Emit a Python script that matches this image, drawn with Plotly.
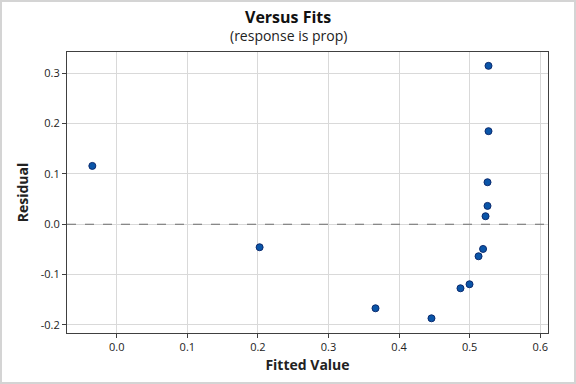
import plotly.graph_objects as go

fitted = [-0.0346, 0.2024, 0.3666, 0.4459, 0.4870, 0.4998, 0.5267, 0.5267, 0.5253, 0.5253, 0.5225, 0.5190, 0.5126]
residual = [0.1158, -0.0457, -0.1669, -0.1868, -0.1272, -0.1192, 0.3145, 0.1848, 0.0834, 0.0364, 0.0159, -0.0491, -0.0636]

x_ticks = [0.0, 0.1, 0.2, 0.3, 0.4, 0.5, 0.6]
x_labels = ["0.0", "0.1", "0.2", "0.3", "0.4", "0.5", "0.6"]
y_ticks = [-0.2, -0.1, 0.0, 0.1, 0.2, 0.3]
y_labels = ["-0.2", "-0.1", "0.0", "0.1", "0.2", "0.3"]

FONT = "Open Sans, Noto Sans, DejaVu Sans, sans-serif"

fig = go.Figure()
fig.add_trace(go.Scatter(
    x=fitted, y=residual, mode="markers",
    marker=dict(size=7, color="#0a55a8", line=dict(color="#0b2a6e", width=1)),
    showlegend=False, hoverinfo="x+y",
))

L, R, T, B = 67, 28, 52, 51
W = 576 - L - R
H = 384 - T - B

axis_common = dict(
    showline=True, linecolor="#404040", linewidth=1, mirror=True,
    showgrid=True, gridcolor="#d9d9d9", gridwidth=1,
    ticks="outside", ticklen=4, tickcolor="#404040",
    zeroline=False,
    tickfont=dict(family=FONT, size=11, color="#222222"),
)

fig.update_layout(
    width=576, height=384,
    margin=dict(l=L, r=R, t=T, b=B, autoexpand=False),
    paper_bgcolor="white", plot_bgcolor="white",
    font=dict(family=FONT),
    xaxis=dict(range=[-0.0705, 0.611], tickvals=x_ticks, ticktext=x_labels,
               title=dict(text="<b>Fitted Value</b>", font=dict(family=FONT, size=14, color="#222222"), standoff=6),
               **axis_common),
    yaxis=dict(range=[-0.216, 0.342], tickvals=y_ticks, ticktext=y_labels,
               title=dict(text="<b>Residual</b>", font=dict(family=FONT, size=14, color="#222222"), standoff=8),
               **axis_common),
    shapes=[
        dict(type="line", xref="paper", yref="y", x0=0, x1=1, y0=0, y1=0,
             line=dict(color="#6e6e6e", width=1.2, dash="dash"), layer="above"),
        dict(type="rect", xref="paper", yref="paper",
             x0=(1 - L) / W, x1=(575 - L) / W,
             y0=(384 - B - 383) / H, y1=(384 - B - 1) / H,
             line=dict(color="#d4d4d4", width=2), fillcolor="rgba(0,0,0,0)"),
    ],
    annotations=[
        dict(text="<b>Versus Fits</b>", xref="paper", yref="paper",
             x=(288 - L) / W, y=(384 - B - 17) / H, xanchor="center", yanchor="middle",
             showarrow=False, font=dict(family=FONT, size=16, color="#111111")),
        dict(text="(response is prop)", xref="paper", yref="paper",
             x=(288 - L) / W, y=(384 - B - 35) / H, xanchor="center", yanchor="middle",
             showarrow=False, font=dict(family=FONT, size=14, color="#222222")),
    ],
)

fig.write_html("out.html", config={"displayModeBar": False},
               post_script="document.body.style.margin='0';document.body.style.overflow='hidden';")
